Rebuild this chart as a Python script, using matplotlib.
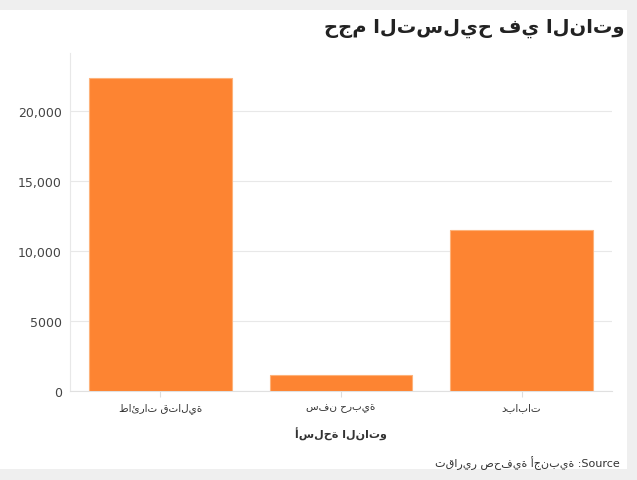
import matplotlib.pyplot as plt
from matplotlib.patches import Rectangle
from matplotlib.ticker import FuncFormatter

try:
    import arabic_reshaper
    from bidi.algorithm import get_display

    def ar(s):
        return get_display(arabic_reshaper.reshape(s))
except ImportError:
    def ar(s):
        return s

categories = ["طائرات قتالية", "سفن حربية", "دبابات"]
values = [22300, 1150, 11500]

title = "حجم التسليح في الناتو"
xlabel = "أسلحة الناتو"
ylabel = "حجم الأسلحة"
source = "تقارير صحفية أجنبية"

plt.rcParams["font.family"] = ["DejaVu Sans"]

fig = plt.figure(figsize=(6.37, 4.81), dpi=100)
fig.patch.set_facecolor("#efefef")
bg = Rectangle((0, 11 / 481), 627 / 637, 459 / 481, transform=fig.transFigure,
               facecolor="white", edgecolor="none", zorder=-10)
fig.patches.append(bg)

ax = fig.add_axes([70 / 637, 89 / 481, 542 / 637, 338 / 481])
ax.set_zorder(5)
ax.set_facecolor("white")
ax.bar(range(len(values)), values, width=0.79, color="#fd8432", edgecolor="#fdb27a", linewidth=0.8, zorder=3)
ax.set_xlim(-0.5, 2.5)
ax.set_ylim(0, 24100)
ax.set_yticks([0, 5000, 10000, 15000, 20000])
ax.yaxis.set_major_formatter(FuncFormatter(lambda v, p: "0" if v == 0 else ("5000" if v == 5000 else f"{int(v):,}")))
ax.set_xticks(range(len(categories)))
ax.set_xticklabels([ar(c) for c in categories], fontsize=7.5, color="#333333")
ax.tick_params(axis="y", labelsize=9, colors="#444444", length=0, pad=6)
ax.tick_params(axis="x", length=4, color="#dddddd", pad=4)
ax.grid(axis="y", color="#e8e8e8", linewidth=0.8, zorder=0)
for s in ["top", "right"]:
    ax.spines[s].set_visible(False)
ax.spines["left"].set_color("#e8e8e8")
ax.spines["bottom"].set_color("#e0e0e0")
ax.set_xlabel(ar(xlabel), fontsize=8, fontweight="bold", color="#333333", labelpad=10)
ax.set_ylabel(ar(ylabel), fontsize=8, fontweight="bold", color="#333333", labelpad=12)

fig.text(625 / 637, 1 - 28 / 481, ar(title), ha="right", va="center", fontsize=14, fontweight="bold", color="#222222", zorder=6)
fig.text(620 / 637, 1 - 463 / 481, ar(source) + " :Source", ha="right", va="center", fontsize=8, color="#333333", zorder=6)

fig.savefig("out.png", dpi=100, facecolor=fig.get_facecolor())
